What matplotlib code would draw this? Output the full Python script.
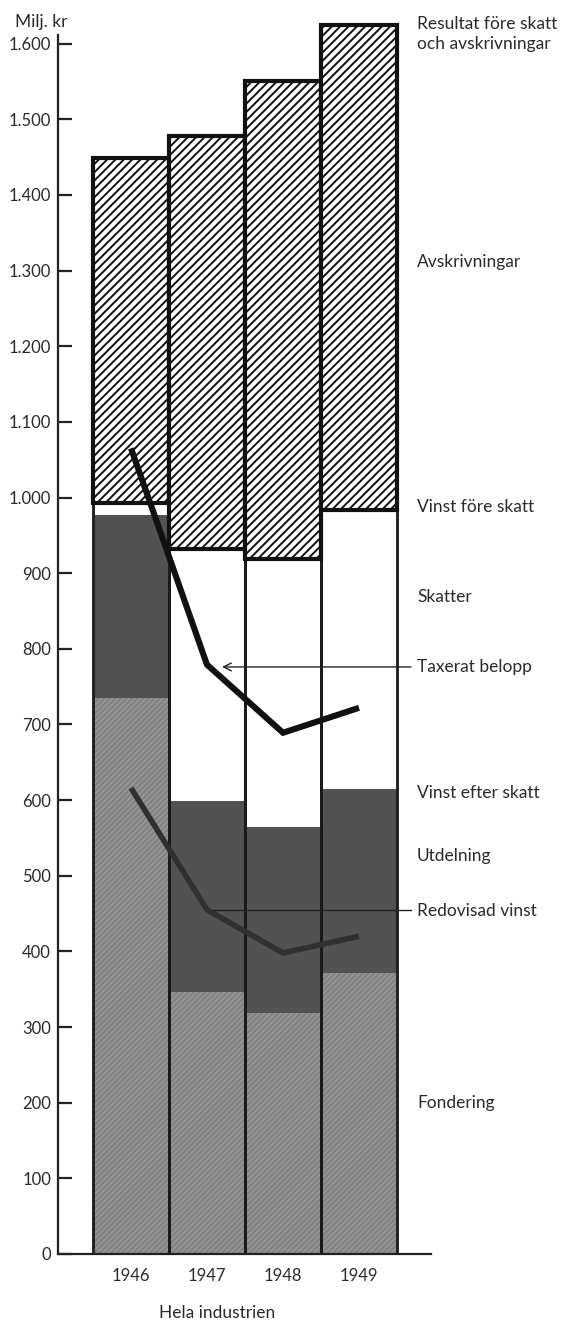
import matplotlib
matplotlib.use("Agg")
import matplotlib.pyplot as plt
import numpy as np

# ---- data (Milj. kr) ----
years = ["1946", "1947", "1948", "1949"]
fondering = [735, 346, 319, 372]              # top of Fondering
vinst_efter_skatt = [977, 599, 565, 615]      # top of Utdelning
vinst_fore_skatt = [993, 932, 919, 984]       # top of Skatter
resultat_fore = [1449, 1478, 1551, 1625]      # Resultat före skatt och avskrivningar
taxerat_belopp = [1065, 779, 689, 722]
redovisad_vinst = [616, 455, 398, 420]
yticks = [0, 100, 200, 300, 400, 500, 600, 700, 800, 900, 1000,
          1100, 1200, 1300, 1400, 1500, 1600]
ytick_labels = ["0", "100", "200", "300", "400", "500", "600", "700", "800",
                "900", "1.000", "1.100", "1.200", "1.300", "1.400", "1.500", "1.600"]

plt.rcParams['font.family'] = ['Lato', 'DejaVu Sans']
plt.rcParams['text.color'] = '#2a2a2a'

W, H = 567, 1322
fig = plt.figure(figsize=(W / 100, H / 100), dpi=100)
ax_left, ax_bottom_px, ax_top_px = 58, 1254, 0
ax = fig.add_axes([ax_left / W, (H - ax_bottom_px) / H, (W - ax_left) / W, (ax_bottom_px - ax_top_px) / H])
px_per_unit = 0.7565
ax.set_ylim(0, (ax_bottom_px - ax_top_px) / px_per_unit)
bar_px = 76
x0 = -(131 - ax_left) / bar_px
ax.set_xlim(x0, x0 + (W - ax_left) / bar_px)

x = np.arange(len(years))
fond = np.array(fondering)
ves = np.array(vinst_efter_skatt)
vfs = np.array(vinst_fore_skatt)
res = np.array(resultat_fore)

# Fondering (textured gray)
with plt.rc_context({'hatch.linewidth': 0.8}):
    ax.bar(x, fond, width=1.0, color='#838383', edgecolor='#9e9e9e',
           hatch='//////', linewidth=0, zorder=1)
# Utdelning (dark)
ax.bar(x, ves - fond, bottom=fond, width=1.0, color='#525252', linewidth=0, zorder=1)
# Skatter (white)
ax.bar(x, vfs - ves, bottom=ves, width=1.0, color='white', linewidth=0, zorder=1)
# Outline of whole bars (separators)
ax.bar(x, vfs, width=1.0, fill=False, edgecolor='#1a1a1a', linewidth=2.0, zorder=2)
# Avskrivningar (hatched)
with plt.rc_context({'hatch.linewidth': 1.4}):
    ax.bar(x, res - vfs, bottom=vfs, width=1.0, color='white', edgecolor='#111111',
           hatch='////', linewidth=3.0, zorder=3)

# Lines
ax.plot(x, taxerat_belopp, color='#111111', lw=4.4, solid_joinstyle='miter',
        solid_capstyle='butt', zorder=5)
ax.plot(x, redovisad_vinst, color='#303030', lw=4.0, solid_joinstyle='miter',
        solid_capstyle='butt', zorder=5)

# Right-side labels
xl = (417 - ax_left) / bar_px + x0
fs = 12.5
labels = [
    ("Resultat före skatt\noch avskrivningar", 1613),
    ("Avskrivningar", 1311),
    ("Vinst före skatt", 987),
    ("Skatter", 868),
    ("Taxerat belopp", 776),
    ("Vinst efter skatt", 609),
    ("Utdelning", 526),
    ("Redovisad vinst", 453),
    ("Fondering", 200),
]
for txt, yv in labels:
    ax.text(xl, yv, txt, fontsize=fs, ha='left', va='center', linespacing=1.3,
            clip_on=False, zorder=6)

x_end = (411 - ax_left) / bar_px + x0
ax.annotate("", xy=((222 - ax_left) / bar_px + x0, 776), xytext=(x_end, 776),
            arrowprops=dict(arrowstyle='->', color='#222222', lw=1.0,
                            mutation_scale=14, shrinkA=0, shrinkB=0), zorder=6)
ax.plot([(213 - ax_left) / bar_px + x0, x_end], [455, 455], color='#222222', lw=1.0, zorder=6)

# Axes styling
for s in ['top', 'right']:
    ax.spines[s].set_visible(False)
ax.spines['left'].set_linewidth(1.6)
ax.spines['bottom'].set_linewidth(1.6)
ax.spines['left'].set_color('#222222')
ax.spines['bottom'].set_color('#222222')
ax.spines['left'].set_bounds(0, (ax_bottom_px - 35) / px_per_unit)
ax.spines['bottom'].set_bounds(x0, (431 - ax_left) / bar_px + x0)

ax.set_yticks(yticks)
ax.set_yticklabels(ytick_labels)
ax.tick_params(axis='y', direction='in', length=10, width=1.6, pad=5,
               labelsize=12, colors='#222222', labelcolor='#2a2a2a')
ax.set_xticks(x)
ax.set_xticklabels(years)
ax.tick_params(axis='x', length=0, pad=10, labelsize=12, labelcolor='#2a2a2a')

fig.text(15 / W, 1 - 22 / H, "Milj. kr", fontsize=12.5, ha='left', va='center')
fig.text(217 / W, 1 - 1313 / H, "Hela industrien", fontsize=12.5, ha='center', va='center')

fig.savefig("out.png", dpi=100)
